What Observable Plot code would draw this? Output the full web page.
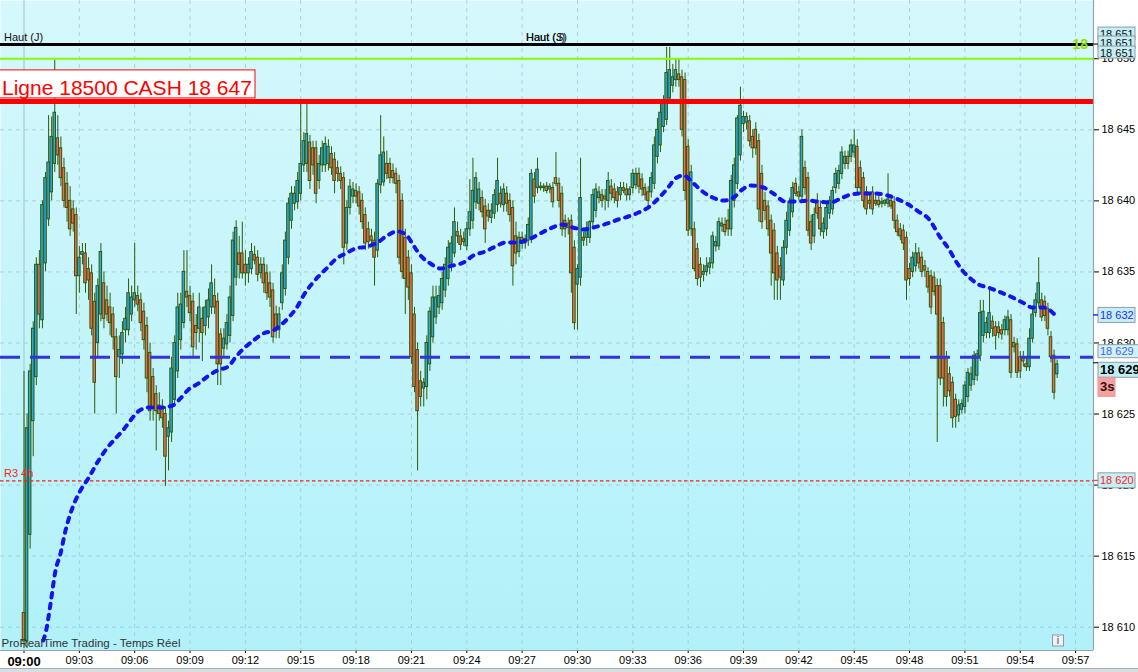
<!DOCTYPE html>
<html><head><meta charset="utf-8">
<script src="https://cdn.jsdelivr.net/npm/d3@7"></script>
<script src="https://cdn.jsdelivr.net/npm/@observablehq/plot@0.6"></script>
<style>
html,body{margin:0;padding:0;background:#fff;overflow:hidden;}
#chart{width:1138px;height:668px;}
#scroll{width:1138px;height:3px;background:#d9dee1;border-top:1px solid #a7b0b5;}
</style></head><body><div id="chart"></div><div id="scroll"></div>
<script>
// ---------------- data ----------------
const sessionDay = [2024, 0, 2];
const sessionStart = "09:00:00";
const barSeconds = 10;
// one row per 10-second bar: [open, high, low, close]
const ohlc = [
[18611,18628,18608.5,18609],[18609,18625,18608.5,18624],[18616.5,18628.5,18615.5,18628],[18624.5,18631.5,18622,18631],[18627.6,18636,18627,18635.5],[18635.5,18636.5,18631,18632],
[18631.6,18640,18631,18639.7],[18635.6,18642,18635,18641.6],[18638.7,18646,18638.2,18642.7],[18640.6,18645.9,18640,18644.5],[18642.6,18649.9,18642,18646.2],[18644.4,18646,18642.5,18643.2],
[18643.7,18644.5,18641,18641.6],[18642.3,18643,18639.5,18640],[18641.2,18642,18638.5,18639.5],[18640,18641,18637.5,18638],[18639.4,18640,18637.8,18638.4],[18639,18639.5,18632,18634.7],
[18634.7,18636.8,18633.5,18636],[18636.2,18637,18635.5,18636.4],[18636.3,18637,18633.5,18634.2],[18635.2,18636,18633,18634.4],[18634.9,18635.5,18630.5,18631],[18632.9,18633.5,18625,18627.2],
[18630,18634.5,18629,18634],[18632,18637,18631.5,18636.4],[18634.2,18635,18631,18631.7],[18633,18634,18631.5,18632],[18632.5,18633.5,18630.5,18631.4],[18632,18632.5,18629.5,18630.4],
[18630.4,18631,18625,18627.6],[18629,18630.5,18627.5,18629.5],[18629.2,18631.5,18628.5,18630.7],[18630.9,18632.5,18630,18631.7],[18630.9,18634.5,18630.5,18633.5],[18632,18634,18631.5,18633.2],
[18633,18637,18632.5,18633.5],[18633.3,18634,18632.2,18632.7],[18633,18633.5,18630.8,18631.4],[18632.2,18632.8,18629.5,18630.2],[18631.2,18631.8,18626.5,18627.5],[18629.3,18630,18624.5,18625.2],
[18627.6,18628.2,18624.5,18625.4],[18626.4,18627,18622.4,18625.2],[18625.6,18626.5,18624.5,18625],[18625.5,18626,18624,18624.7],[18625,18625.5,18619.9,18622],[18623.4,18624.5,18621,18624],
[18623.7,18629,18623,18628.2],[18626,18630.5,18625.5,18630],[18628,18633.5,18627.5,18632.5],[18630.2,18633.5,18629.5,18632.7],[18631.4,18636.5,18631,18635],[18633.6,18636.5,18632.5,18633.2],
[18633.3,18634,18631.5,18632.1],[18632.9,18633.5,18629,18629.7],[18631.2,18632,18629.5,18630.7],[18631,18633.5,18630,18632.5],[18631.7,18632.5,18628.7,18630.7],[18631.2,18633,18630.5,18632.5],
[18631.8,18633.8,18631,18633],[18632.5,18635.5,18632,18634.2],[18633.3,18634.5,18632,18632.5],[18632.9,18633.5,18627,18628.5],[18630.6,18631,18627,18628.5],[18629.6,18631,18629,18630.3],
[18629.9,18632,18629.5,18631.4],[18630.5,18634,18630,18633.2],[18631.9,18637.8,18631.5,18637.2],[18634.6,18638.6,18634,18638.1],[18636.3,18637.5,18634.5,18635.5],[18636.3,18638.5,18634.5,18634.9],
[18635.5,18636.5,18634,18634.9],[18634.9,18636,18634.2,18635.5],[18635.2,18637,18634.8,18636.4],[18636.2,18636.8,18635.5,18635.8],[18636,18636.5,18634.3,18634.8],[18634.9,18636,18634.5,18635.5],
[18635.5,18636,18633.5,18634.2],[18634.9,18635.5,18633,18633.5],[18634.2,18635,18632.5,18633.2],[18633.7,18634.2,18630,18630.4],[18632,18632.6,18630.3,18630.9],[18630.9,18632.5,18630.3,18632],
[18632.8,18635.5,18632.3,18634.9],[18633.8,18637.8,18633.3,18637.2],[18636,18640.2,18635.5,18639.8],[18638.6,18641,18638,18640.5],[18639.8,18641,18639.3,18640.5],[18639.9,18642,18639.4,18641.4],
[18640.5,18646.8,18640,18642.6],[18642.5,18644.8,18642,18644.2],[18642.6,18646.8,18642,18644.7],[18644.1,18644.6,18640.8,18641.4],[18643.7,18644.2,18641.8,18642.5],[18643.7,18644.2,18639.8,18640.5],
[18641.4,18643.2,18640.8,18642.6],[18642.5,18644.2,18642,18643.7],[18642.5,18644.5,18642,18644],[18642.6,18644.3,18642.1,18643.8],[18643.3,18643.8,18641.8,18642.3],[18642.9,18643.4,18640.5,18641.4],
[18642.3,18642.8,18641.3,18641.9],[18641.9,18642.4,18640.8,18641.4],[18641.6,18642,18635.5,18636.7],[18637,18640,18636.5,18639.5],[18639.5,18641.5,18639,18641],[18640.3,18641.3,18639.8,18640.8],
[18640.7,18641.2,18639.8,18640.3],[18640.6,18641,18639,18639.6],[18640,18640.5,18638,18638.5],[18639,18639.5,18636.5,18637],[18638,18638.5,18636.6,18637.1],[18637.5,18638,18636.8,18637.2],
[18637.2,18637.8,18634,18636],[18636.5,18641.5,18636,18641.2],[18641.1,18646,18640.5,18643.2],[18641.3,18644.5,18641,18643.4],[18642.6,18643.5,18641.5,18641.9],[18642.6,18643,18641.2,18641.6],
[18642.1,18642.6,18641.2,18641.6],[18641.9,18642.3,18640.5,18641.2],[18641.4,18641.8,18635.5,18636],[18640,18640.5,18634.5,18635],[18637.4,18638,18632,18634.5],[18636,18636.5,18633,18633.9],
[18634.9,18635.5,18628.5,18629],[18632,18632.5,18626.5,18626.9],[18629.5,18630,18621,18625.2],[18627.3,18628,18625.5,18626.2],[18626.8,18627.5,18625.5,18627.2],[18626.9,18630.5,18626,18630],
[18628.5,18632.5,18628,18632.2],[18630.4,18634,18630,18633.2],[18631.8,18634,18631.3,18633.2],[18632.5,18634,18632,18633.3],[18632.8,18635,18632.3,18634.5],[18633.7,18636,18633.2,18635.5],
[18634.5,18637.2,18634,18636.7],[18635.6,18637.5,18635,18637],[18636.3,18639.5,18636,18638.5],[18637.8,18638.5,18637,18637.5],[18637.5,18638,18636.5,18636.9],[18637.3,18637.8,18636.8,18637.1],
[18636.8,18638.5,18636.5,18638],[18638,18641.5,18637.5,18639.2],[18638.6,18643,18638,18640.7],[18639.9,18642,18639.4,18641.6],[18639.8,18641.3,18639.3,18640.8],[18640.2,18640.7,18638.8,18639.2],
[18639.6,18640.1,18637,18638],[18639.3,18639.8,18638.5,18638.9],[18638.8,18639.8,18638.4,18639.3],[18639.1,18640.8,18638.7,18640.4],[18639.7,18643,18639.2,18641.4],[18640.5,18641,18639.5,18639.8],
[18639.7,18641.2,18639.2,18640.8],[18640.5,18641,18639.2,18639.8],[18640,18640.5,18638.5,18639],[18639.5,18640,18634,18635.4],[18637.5,18638.5,18635.5,18636.3],[18636.4,18637.8,18636,18637.4],
[18637.4,18637.8,18636.6,18637],[18637,18637.6,18636.6,18637.3],[18637.2,18638.8,18636.8,18638.3],[18637.4,18642.2,18637,18641.9],[18641.5,18642,18639.8,18640.3],[18640.9,18643,18640.5,18642.2],
[18641,18641.3,18640.7,18640.9],[18640.9,18641.2,18640.6,18641],[18641,18641.3,18640.5,18640.7],[18640.8,18641.2,18640.5,18641],[18640.9,18641.3,18639.5,18639.9],[18641.6,18643.4,18641,18641.2],
[18641.2,18641.6,18639.5,18640],[18640.5,18641,18637.5,18638],[18638.6,18639,18637.4,18638],[18638.4,18638.8,18637.6,18638.1],[18638.6,18639,18633.5,18634.9],[18636.7,18637.2,18630.9,18631.4],
[18634.1,18635.5,18630.9,18635.2],[18634.6,18643,18634,18640.2],[18637.4,18637.8,18636.8,18637.2],[18637.4,18638.5,18636.8,18637.9],[18637.4,18638.6,18637,18638.5],[18638.5,18640.8,18638,18640.4],
[18639.3,18641.2,18638.8,18640.8],[18640.2,18641,18639.8,18640.6],[18640.4,18640.8,18639.5,18640],[18640.3,18640.8,18639.3,18640.1],[18640,18642,18639.5,18641.4],[18641,18641.5,18640,18640.5],
[18640.8,18641.2,18639.8,18640.2],[18640.6,18641,18639.5,18640],[18640.4,18641.3,18640,18640.9],[18640.9,18641.3,18640.5,18640.7],[18640.8,18641.2,18640,18640.4],[18640.4,18641,18640,18640.8],
[18640.9,18642.2,18640.5,18641.9],[18641.1,18642.3,18640.8,18641.9],[18641.9,18642.3,18640.5,18641],[18641.5,18641.9,18640.3,18640.8],[18640.9,18641.2,18640,18640.4],[18640.6,18641,18639.6,18640],
[18640.6,18642,18640.2,18641.6],[18641.2,18644.5,18640.8,18643.9],[18643.1,18645.8,18642.6,18645],[18643.9,18646.8,18643.4,18646.2],[18645.2,18647.4,18644.8,18646.9],[18645.7,18650.8,18645.3,18649],
[18647.2,18650.8,18646.8,18649.2],[18648.1,18649.6,18647.6,18648.7],[18648.5,18650,18648,18649.2],[18648.9,18650,18648,18648.5],[18648.7,18649.2,18644.5,18645],[18648.5,18649,18640,18640.7],
[18643.8,18644.3,18637.5,18637.9],[18638,18642.5,18637.5,18642],[18638,18638.5,18635,18635.2],[18636.6,18637,18634,18634.5],[18635.5,18636,18633.9,18634.6],[18634.8,18635.5,18634.3,18635],
[18635,18636,18634.7,18635.4],[18635.3,18636,18634.8,18635.6],[18635.6,18637.8,18635.2,18637.5],[18636.8,18637.5,18636.4,18637.1],[18636.8,18638.8,18636.5,18638.5],[18638.2,18638.8,18637.8,18638.4],
[18638.3,18638.8,18637.5,18637.8],[18638.6,18639.4,18637.5,18638],[18638,18641.8,18637.5,18641.4],[18640,18643,18639.5,18642.5],[18641.2,18646,18640.8,18645.8],[18643.2,18648,18642.8,18646.7],
[18645.4,18646.3,18644.8,18645.9],[18645.5,18646.2,18645,18645.9],[18645.6,18646,18643.8,18644.2],[18644.5,18645,18643,18643.7],[18645,18645.5,18643.2,18643.7],[18644.2,18644.7,18638.5,18639.4],
[18641.9,18642.5,18638,18638.5],[18640,18640.6,18638.6,18639.3],[18639.6,18640,18637.5,18638],[18638.6,18639,18634,18636.3],[18637.9,18638.4,18633,18634.9],[18636.3,18636.8,18633,18634.4],
[18635.4,18636,18633,18634.6],[18634.4,18637.2,18634,18636.7],[18636.7,18639.2,18636.2,18638.6],[18637.9,18640.2,18637.5,18639.9],[18639.2,18641.3,18638.8,18640.9],[18641.2,18641.6,18640.3,18640.5],
[18640.6,18641,18640,18640.3],[18640.3,18645,18640,18644.5],[18642.3,18642.8,18640.4,18640.9],[18641.6,18642,18637.5,18637.9],[18638.5,18639,18636.5,18637],[18637.5,18639.5,18637,18639],
[18640,18640.5,18638.7,18639.1],[18639.5,18640,18637.5,18638],[18637.8,18638.8,18637.3,18638.4],[18638,18639.8,18637.5,18639.5],[18639.1,18640.3,18638.7,18640],[18639.4,18641,18639,18640.7],
[18640.9,18642.3,18640.5,18641.9],[18641.2,18642.5,18640.8,18642.1],[18641.9,18643.8,18641.5,18643.4],[18642.6,18643.5,18642.2,18643.1],[18643.1,18643.5,18642.2,18642.6],[18643.1,18644.3,18642.7,18643.9],
[18643.4,18645,18643,18643.9],[18643.8,18644.3,18640.5,18640.9],[18642.3,18642.8,18640.5,18640.9],[18641.6,18642,18639.5,18640],[18640.6,18641,18639,18639.4],[18640,18640.5,18639.4,18639.8],
[18640.6,18641,18639,18639.4],[18640,18640.4,18639.6,18639.8],[18640,18640.4,18639.5,18639.7],[18639.8,18640.2,18639.5,18639.9],[18639.8,18640.1,18639.6,18640],[18639.8,18641.9,18639.5,18640.1],
[18640,18640.4,18639.4,18639.6],[18639.9,18640.3,18638,18638.6],[18638.6,18639,18637.5,18637.8],[18638,18638.4,18637.2,18637.5],[18637.9,18638.3,18636.5,18637],[18637.4,18637.8,18633,18634.4],
[18635.2,18635.6,18634,18634.5],[18635,18636.4,18634.6,18636],[18635.4,18637,18635,18636.3],[18636.3,18636.7,18635.2,18635.6],[18636,18636.4,18634.6,18635],[18635.4,18635.8,18634.6,18635.1],
[18635,18635.3,18633.5,18633.9],[18634.7,18635.1,18632,18632.5],[18634.6,18635,18633.3,18633.6],[18634,18634.5,18623,18632],[18634,18634.5,18627,18627.5],[18631.4,18631.8,18625.5,18627.5],
[18629,18629.4,18625.5,18626.2],[18627.8,18628.3,18626.2,18626.6],[18627.2,18627.6,18624,18624.7],[18626,18626.4,18624,18624.8],[18624.9,18626,18624.4,18625.6],[18625.3,18626,18625,18625.7],
[18625.5,18627.3,18625,18627],[18626.2,18628.2,18625.8,18627.9],[18627,18628.3,18626.6,18627.8],[18627.4,18629.4,18627,18629.1],[18627.7,18629.5,18627.3,18629.2],[18629.1,18633,18628.7,18632.1],
[18630.5,18633,18630,18632.2],[18630.7,18631.8,18630.3,18631.4],[18630.7,18633.9,18630.3,18632.1],[18631.5,18631.9,18630.4,18631],[18631.1,18631.5,18629.5,18630.5],[18631.1,18631.5,18630.3,18630.7],
[18630.9,18631.3,18630.2,18630.6],[18630.9,18631.9,18630.5,18631.6],[18630.9,18632.3,18630.5,18631.8],[18631.6,18632,18627.5,18627.9],[18630,18630.4,18629.3,18629.7],[18629.9,18630.3,18627.5,18627.9],
[18629,18629.4,18627.5,18628],[18629,18629.4,18628.3,18628.7],[18628.5,18628.9,18628,18628.3],[18628.3,18631,18628,18630.3],[18630.3,18632.4,18630,18632],[18632.1,18633.5,18631.8,18633],
[18632.8,18636,18632.5,18634.2],[18633,18633.5,18631.5,18631.8],[18632.9,18633.3,18631.5,18631.9],[18632.4,18632.8,18630.5,18631],[18630.4,18630.8,18628.6,18629],[18629.1,18629.5,18626,18626.5],
[18627.8,18628.8,18627.5,18628.5]
];
// moving average (blue dotted): minutes after 09:00 and value
const maMinute = [1.04,1.20,1.44,1.71,1.98,2.25,2.52,2.79,3.06,3.50,3.98,4.53,4.96,5.39,5.77,6.21,6.75,7.40,8.05,8.48,8.92,9.46,9.95,10.49,11.08,11.46,11.90,12.44,12.98,13.52,14.01,14.45,14.82,15.15,15.53,15.96,16.45,16.88,17.43,17.97,18.62,19.16,19.70,20.24,20.79,21.11,21.49,22.03,22.57,23.22,23.82,24.36,25.01,25.56,26.10,26.75,27.34,27.89,28.54,29.19,29.73,30.33,30.87,31.63,32.22,32.76,33.31,33.85,34.39,34.88,35.31,35.75,36.23,36.78,37.32,37.91,38.46,38.94,39.38,40.08,40.62,41.27,41.92,42.47,43.06,43.71,44.25,44.80,45.45,46.04,46.80,47.40,47.94,48.48,49.02,49.67,50.11,50.49,50.87,51.30,51.73,52.28,52.82,53.47,54.12,54.66,55.26,55.91];
const maValue = [18609.06,18609.77,18611.67,18614.0,18615.19,18616.8,18618.0,18618.92,18619.62,18620.5,18621.6,18622.65,18623.28,18623.9,18624.55,18625.2,18625.46,18625.46,18625.6,18626.1,18626.73,18627.15,18627.65,18628.07,18628.35,18628.98,18629.6,18630.18,18630.67,18630.88,18631.37,18631.94,18632.57,18633.34,18634.04,18634.68,18635.31,18635.88,18636.3,18636.65,18636.79,18637.07,18637.57,18637.85,18637.5,18636.86,18636.16,18635.59,18635.24,18635.45,18635.66,18636.16,18636.44,18636.79,18637.07,18637.07,18637.28,18637.64,18638.07,18638.33,18638.13,18637.99,18638.13,18638.41,18638.69,18638.9,18639.18,18639.54,18640.18,18640.88,18641.58,18641.79,18641.3,18640.66,18640.24,18640.02,18640.24,18640.8,18641.08,18640.94,18640.52,18639.95,18639.95,18640.02,18639.95,18639.88,18640.16,18640.44,18640.52,18640.52,18640.38,18640.09,18639.74,18639.25,18638.76,18637.42,18636.65,18635.8,18635.1,18634.54,18634.12,18633.9,18633.62,18633.27,18632.85,18632.5,18632.5,18631.94];
const timeTicks = ["09:00","09:03","09:06","09:09","09:12","09:15","09:18","09:21","09:24","09:27","09:30","09:33","09:36","09:39","09:42","09:45","09:48","09:51","09:54","09:57"];
const priceTicks = [18610,18615,18620,18625,18630,18635,18640,18645,18650];
const levelNames = ["Haut (J)", "Haut (S)", "green", "Ligne 18500 CASH 18 647", "dashed", "R3 4h"];
const levelValues = [18651, 18651, 18650, 18647, 18629, 18620.3];
const viewMinutes = [-1.274, 57.97];
const viewPrices = [18608.36, 18654.1];

// ---------------- helpers ----------------
const FONT = "'Liberation Sans', Arial, Helvetica, sans-serif";
const tm = s => { const [h, m, sec = 0] = s.split(":").map(Number); return new Date(Date.UTC(sessionDay[0], sessionDay[1], sessionDay[2], h, m, sec)); };
const base = +tm(sessionStart);
const atMin = m => new Date(base + m * 60000);
const half = 4.1 * 1000;
const candles = ohlc.map(([o, h, l, c], i) => {
  const t = base + i * barSeconds * 1000;
  return {t: new Date(t), t0: new Date(t - half), t1: new Date(t + half), o, h, l, c};
});
const ma = maMinute.map((m, i) => ({t: atMin(m), v: maValue[i]}));
const tickDates = timeTicks.map(tm);
const fmt = d3.formatLocale({decimal: ",", thousands: " ", grouping: [3], currency: ["", ""]}).format(",.0f");
const lv = name => levelValues[levelNames.indexOf(name)];

const UP = "#2aa8e0", DOWN = "#ec6a54", EDGE = "#2f5a08";
const W = 1138, H = 668, MR = 45, MB = 18;

const chart = Plot.plot({
  width: W, height: H,
  marginLeft: 0, marginRight: MR, marginTop: 0, marginBottom: MB,
  style: {background: "white", fontFamily: FONT, fontSize: "11px", color: "#000"},
  x: {type: "utc", domain: viewMinutes.map(atMin), ticks: tickDates, tickFormat: d3.utcFormat("%H:%M"), tickSize: 3, tickPadding: 3, label: null},
  y: {domain: viewPrices, axis: "right", ticks: priceTicks, tickFormat: fmt, tickSize: 5, tickPadding: 3, label: null},
  marks: [
    Plot.frame({fill: "url(#bgGrad)"}),
    Plot.ruleY(priceTicks, {stroke: "#9cc6d0", strokeOpacity: 0.75, strokeDasharray: "4,4"}),
    Plot.ruleX(tickDates.slice(1), {stroke: "#9cc6d0", strokeOpacity: 0.75, strokeDasharray: "4,4"}),
    Plot.ruleX(tickDates.slice(0, 1), {stroke: "#a9cad3", strokeWidth: 1.2}),
    Plot.ruleX(candles, {x: "t", y1: "l", y2: "h", stroke: EDGE, strokeWidth: 1}),
    Plot.rect(candles, {x1: "t0", x2: "t1", y1: "o", y2: "c", fill: d => d.c >= d.o ? UP : DOWN, stroke: EDGE, strokeWidth: 1}),
    Plot.ruleY([lv("R3 4h")], {stroke: "#ff1a1a", strokeWidth: 1.3, strokeDasharray: "3.5,2.5"}),
    Plot.ruleY([lv("dashed")], {stroke: "#3333d8", strokeWidth: 3, strokeDasharray: "20,10"}),
    Plot.ruleY([lv("green")], {stroke: "#80ff00", strokeWidth: 2.2}),
    Plot.ruleY([lv("Haut (J)")], {stroke: "#000", strokeWidth: 3}),
    Plot.ruleY([lv("Ligne 18500 CASH 18 647")], {stroke: "#ff0000", strokeWidth: 5}),
    Plot.line(ma, {x: "t", y: "v", stroke: "#1414ee", strokeWidth: 4, strokeDasharray: "4.5,6.5", curve: "monotone-x"}),
    Plot.ruleX([atMin(viewMinutes[1])], {stroke: "#98a4ab", strokeWidth: 1.2}),
    Plot.ruleY([viewPrices[0]], {stroke: "#98a4ab", strokeWidth: 1.2})
  ]
});

const svg = d3.select(chart);
const defs = svg.insert("defs", ":first-child");
const grad = defs.append("linearGradient").attr("id", "bgGrad").attr("x1", 0).attr("y1", 0).attr("x2", 0).attr("y2", 1);
grad.append("stop").attr("offset", 0).attr("stop-color", "#d6f8fc");
grad.append("stop").attr("offset", 1).attr("stop-color", "#b1f1f9");

svg.selectAll("text").filter(function () { return this.textContent === "09:00"; })
  .attr("font-weight", "bold").attr("font-size", 13);

const X = chart.scale("x"), Y = chart.scale("y");
const xR = W - MR;
const layer = svg.append("g").attr("font-family", FONT);
const txt = (x, y, s, o = {}) => layer.append("text").attr("x", x).attr("y", y)
  .attr("font-size", o.size || 11).attr("fill", o.color || "#111").attr("font-weight", o.weight || "normal")
  .attr("text-anchor", o.anchor || "start").attr("dy", o.dy || null).text(s);
const box = (x, y, w, h, fill, stroke) => layer.append("rect").attr("x", x).attr("y", y).attr("width", w).attr("height", h)
  .attr("fill", fill).attr("stroke", stroke || "none").attr("stroke-width", 1);

// level captions
const yHigh = Y.apply(lv("Haut (J)"));
txt(4, yHigh - 3, "Haut (J)");
const xS = X.apply(atMin(27.24));
txt(xS, yHigh - 3, "Haut (J)");
txt(xS, yHigh - 3, "Haut (S)");
const yRed = Y.apply(lv("Ligne 18500 CASH 18 647"));
box(-1, yRed - 31, 256, 28, "#ffffff", "#ff0000");
txt(2, yRed - 5.5, "Ligne 18500 CASH 18 647", {size: 21, color: "#ff0000"});
txt(4, Y.apply(lv("R3 4h")) - 3, "R3 4h", {color: "#ff2020"});
txt(1.5, Y.apply(viewPrices[0]) - 3, "ProRealTime Trading - Temps Réel", {size: 11.5, color: "#333"});
box(xR - 40.5, Y.apply(viewPrices[0]) - 15, 11, 11, "#eef2f3", "#8f9aa0");
txt(xR - 35, Y.apply(viewPrices[0]) - 6, "i", {size: 10, color: "#7d878c", weight: "bold", anchor: "middle"});

// right-side price boxes
const BF = "#c6eef6", BS = "#8e9ea6";
[-17, -8, 2].forEach(off => { box(xR + 5, yHigh + off, 37, 12, BF, BS); txt(xR + 7, yHigh + off + 7, fmt(lv("Haut (J)")), {dy: "0.35em"}); });
layer.append("line").attr("x1", xR).attr("x2", xR + 5).attr("y1", yHigh).attr("y2", yHigh).attr("stroke", "#000");
txt(xR - 5, yHigh, "18", {size: 14, weight: "bold", color: "#8ee000", anchor: "end", dy: "0.35em"});

const yMa = Y.apply(maValue[maValue.length - 1]);
box(xR + 5, yMa - 7.5, 37, 15, BF, BS);
txt(xR + 7, yMa, fmt(maValue[maValue.length - 1]), {color: "#1530ff", dy: "0.35em"});
layer.append("line").attr("x1", xR).attr("x2", xR + 5).attr("y1", yMa).attr("y2", yMa).attr("stroke", "#1530ff").attr("stroke-width", 1.5);

const yDash = Y.apply(lv("dashed"));
box(xR + 5, yDash - 12, 41, 13, "#d0f2f8", BS);
txt(xR + 7, yDash - 5.5, fmt(lv("dashed")), {color: "#4466e4", dy: "0.35em"});

const last = ohlc[ohlc.length - 1][3];
const yLast = Y.apply(last);
box(xR + 5, yLast - 1.5, 44, 15, "#bdeff7", BS);
txt(xR + 7, yLast + 6, fmt(last), {size: 13, weight: "bold", color: "#000", dy: "0.35em"});
layer.append("line").attr("x1", xR).attr("x2", xR + 5).attr("y1", yLast - 1).attr("y2", yLast - 1).attr("stroke", "#000");
box(xR + 5, yLast + 13.5, 17, 19, "#f3a2a2", "#e79494");
txt(xR + 7, yLast + 23, "3s", {size: 13, weight: "bold", color: "#3b0d0d", dy: "0.35em"});

const yR3 = Y.apply(lv("R3 4h"));
box(xR + 5, yR3 - 7.5, 37, 15, BF, BS);
txt(xR + 7, yR3, fmt(lv("R3 4h")), {color: "#ff2020", dy: "0.35em"});
layer.append("line").attr("x1", xR).attr("x2", xR + 5).attr("y1", yR3).attr("y2", yR3).attr("stroke", "#ff2020");

document.getElementById("chart").appendChild(chart);
</script></body></html>
